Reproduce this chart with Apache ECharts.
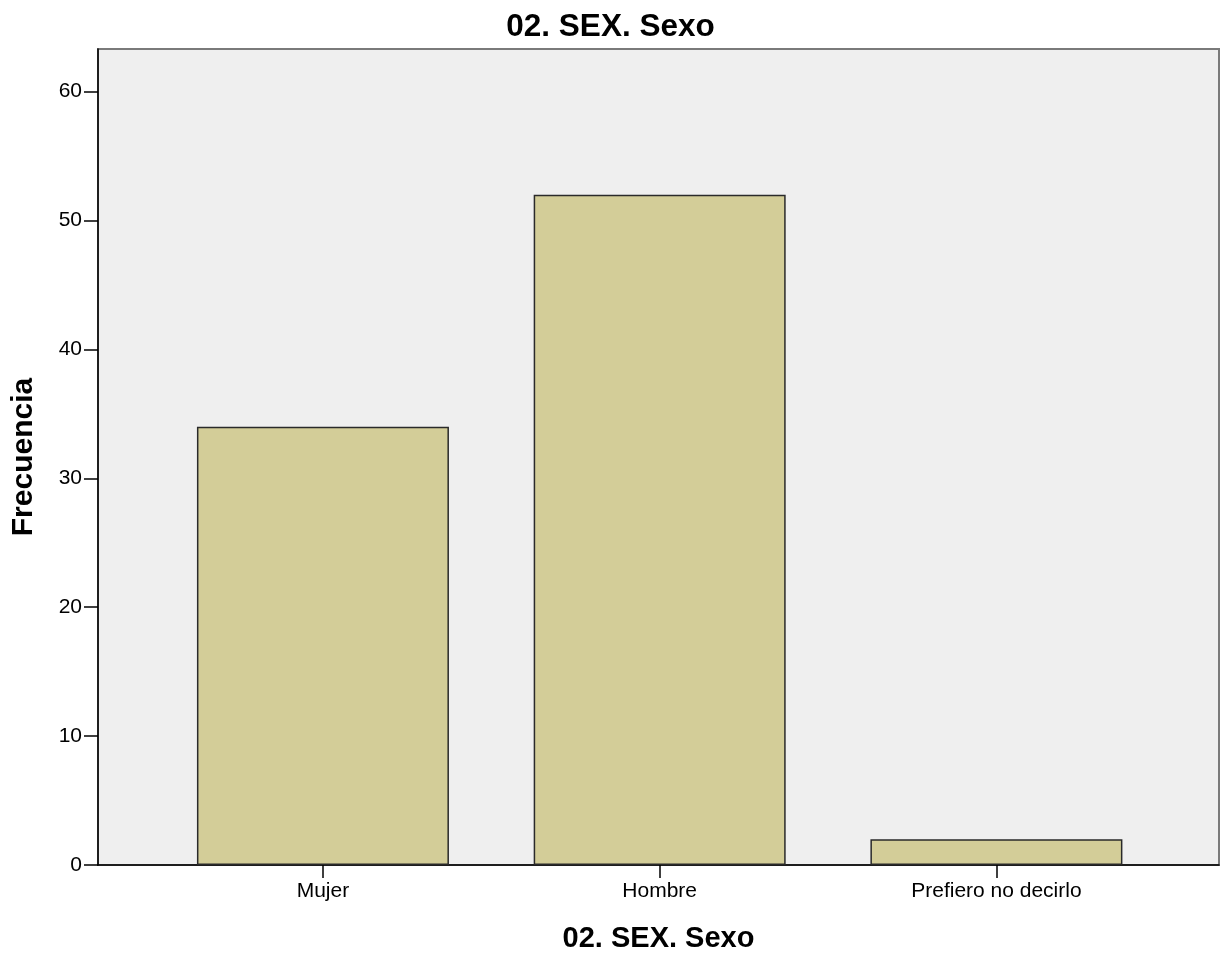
<!DOCTYPE html>
<html>
<head>
<meta charset="utf-8">
<script src="https://cdn.jsdelivr.net/npm/echarts@6/dist/echarts.min.js"></script>
<style>html,body{margin:0;padding:0;background:#fff;}#c{width:1221px;height:953px;}</style>
</head>
<body>
<div id="c"></div>
<script>
const categories = ['Mujer', 'Hombre', 'Prefiero no decirlo'];
const frecuencia = [34, 52, 2];
const yTicks = [0, 10, 20, 30, 40, 50, 60];
const xTicks = [1, 2, 3];
const titleText = '02. SEX. Sexo';
const xName = '02. SEX. Sexo';
const yName = 'Frecuencia';

const barData = frecuencia.map((v, i) => [i + 1, v]);

const chart = echarts.init(document.getElementById('c'));
const font = 'Arial, "Liberation Sans", sans-serif';
chart.setOption({
  animation: false,
  backgroundColor: '#ffffff',
  title: {
    text: titleText, left: 'center', top: 6,
    textStyle: { fontFamily: font, fontSize: 31.5, fontWeight: 'bold', color: '#000' }
  },
  grid: {
    left: 98, right: 2, top: 49, bottom: 88,
    outerBoundsMode: 'none',
    show: true, backgroundColor: '#efefef', borderColor: '#7a7a7a', borderWidth: 2
  },
  xAxis: {
    type: 'value', min: 0.332, max: 3.661,
    name: xName, nameLocation: 'middle', nameGap: 59,
    nameTextStyle: { fontFamily: font, fontSize: 29, fontWeight: 'bold', color: '#000' },
    axisLine: { show: true, onZero: false, lineStyle: { color: '#000', width: 1.5 } },
    axisTick: { show: true, length: 13, customValues: xTicks, lineStyle: { color: '#000', width: 1.5 } },
    axisLabel: {
      fontFamily: font, fontSize: 21, color: '#000', margin: 16, customValues: xTicks,
      formatter: v => categories[Math.round(v) - 1] || ''
    },
    splitLine: { show: false }
  },
  yAxis: {
    type: 'value', min: 0, max: 63.3, interval: 10,
    name: yName, nameLocation: 'middle', nameGap: 59,
    nameTextStyle: { fontFamily: font, fontSize: 30, fontWeight: 'bold', color: '#000' },
    axisLine: { show: true, lineStyle: { color: '#000', width: 1.5 } },
    axisTick: { show: true, length: 14, customValues: yTicks, lineStyle: { color: '#000', width: 1.5 } },
    axisLabel: { fontFamily: font, fontSize: 21, color: '#000', margin: 16, customValues: yTicks },
    splitLine: { show: false }
  },
  series: [{
    type: 'bar', data: barData, barWidth: 252,
    itemStyle: { color: '#d3cd98', borderColor: '#2a2a2a', borderWidth: 1.5 }
  }]
});
</script>
</body>
</html>
